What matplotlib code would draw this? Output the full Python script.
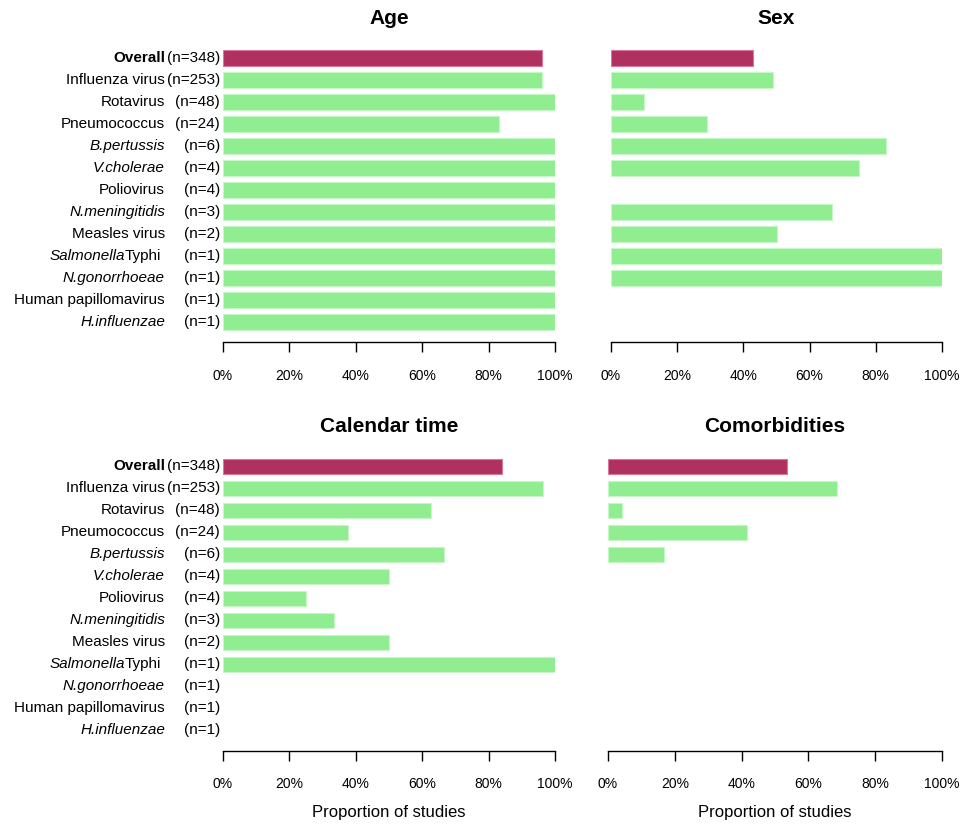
import matplotlib
matplotlib.use("Agg")
from matplotlib import pyplot as plt

plt.rcParams['font.family'] = ['Liberation Sans', 'DejaVu Sans']

# ---- data ----
names = ["Overall", "Influenza virus", "Rotavirus", "Pneumococcus", "B.pertussis",
         "V.cholerae", "Poliovirus", "N.meningitidis", "Measles virus", "Salmonella",
         "N.gonorrhoeae", "Human papillomavirus", "H.influenzae"]
italic_names = ["B.pertussis", "V.cholerae", "N.meningitidis", "N.gonorrhoeae", "H.influenzae"]
n_studies = [348, 253, 48, 24, 6, 4, 4, 3, 2, 1, 1, 1, 1]

age = [0.96, 0.96, 1.0, 0.83, 1.0, 1.0, 1.0, 1.0, 1.0, 1.0, 1.0, 1.0, 1.0]
sex = [0.43, 0.49, 0.10, 0.29, 0.83, 0.75, 0.0, 0.667, 0.50, 1.0, 1.0, 0.0, 0.0]
calendar = [0.84, 0.963, 0.625, 0.375, 0.667, 0.50, 0.25, 0.333, 0.50, 1.0, 0.0, 0.0, 0.0]
comorb = [0.535, 0.686, 0.042, 0.417, 0.167, 0.0, 0.0, 0.0, 0.0, 0.0, 0.0, 0.0, 0.0]

ticks = [0, 0.2, 0.4, 0.6, 0.8, 1.0]
tick_labels = ["0%", "20%", "40%", "60%", "80%", "100%"]

maroon = "#B03060"
green = "#90EE90"

W, H = 965, 827
fig = plt.figure(figsize=(W / 100, H / 100), dpi=100)


def panel(left_px, right_px, bottom_px, values, labels=False, xlabel=False):
    top_px = bottom_px - 297.7
    ax = fig.add_axes([left_px / W, 1 - bottom_px / H,
                       (right_px - left_px) / W, (bottom_px - top_px) / H])
    y = list(range(len(values)))
    colors = [maroon] + [green] * (len(values) - 1)
    edges = [("#d9789a" if i == 0 else "#c6f7c6") if v > 0 else "none"
             for i, v in enumerate(values)]
    ax.barh(y, values, height=0.7, color=colors, edgecolor=edges, linewidth=0.8)
    ax.set_xlim(0, 1)
    ax.set_ylim(12.92, -0.6)
    for s in ["top", "right", "left"]:
        ax.spines[s].set_visible(False)
    ax.spines["bottom"].set_linewidth(1.0)
    ax.set_yticks([])
    ax.set_xticks(ticks)
    ax.set_xticklabels(tick_labels, fontsize=10)
    ax.tick_params(axis='x', length=7.2, width=1.0, pad=12)

    if labels:
        tr = ax.get_yaxis_transform()
        name_x = (165 - left_px) / (right_px - left_px)
        n_x = (220 - left_px) / (right_px - left_px)
        for i, nm in enumerate(names):
            ax.text(n_x, i, f"(n={n_studies[i]})", transform=tr, ha='right',
                    va='center', fontsize=11, clip_on=False)
            if nm == "Salmonella":
                t = ax.text(name_x - 4 / (right_px - left_px), i, "Typhi", transform=tr,
                            ha='right', va='center', fontsize=11, clip_on=False)
                ax.annotate("Salmonella", xy=(0, 0.5), xycoords=t, ha='right',
                            va='center', fontsize=11, style='italic')
            else:
                ax.text(name_x, i, nm, transform=tr, ha='right', va='center',
                        fontsize=11, clip_on=False,
                        style='italic' if nm in italic_names else 'normal',
                        weight='bold' if nm == "Overall" else 'normal')
    if xlabel:
        fig.text((left_px + right_px) / 2 / W, 1 - 813 / H, "Proportion of studies",
                 ha='center', va='center', fontsize=12)
    return ax


panel(223, 555, 342.3, age, labels=True)
panel(611, 942, 342.3, sex)
panel(223, 555, 750.7, calendar, labels=True, xlabel=True)
panel(608, 942, 750.7, comorb, xlabel=True)

fig.text(389 / W, 1 - 18 / H, "Age", ha='center', va='center', fontsize=15, weight='bold')
fig.text(776.5 / W, 1 - 18 / H, "Sex", ha='center', va='center', fontsize=15, weight='bold')
fig.text(389 / W, 1 - 426 / H, "Calendar time", ha='center', va='center', fontsize=15, weight='bold')
fig.text(775 / W, 1 - 426 / H, "Comorbidities", ha='center', va='center', fontsize=15, weight='bold')

fig.savefig("out.png", dpi=100)
